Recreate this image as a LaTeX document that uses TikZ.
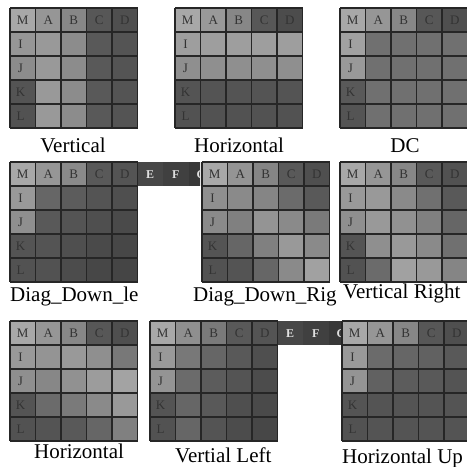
\documentclass[tikz,border=0pt]{standalone}
\usepackage{fontspec}
\setmainfont{Liberation Serif}
\tikzset{
  gridline/.style={draw=black!85, line width=1.2pt},
  nbr/.style={text=black!80, font=\fontsize{13}{13}\selectfont, inner sep=0pt},
  extnbr/.style={text=white!88!black, font=\fontsize{12}{12}\selectfont\bfseries, inner sep=0pt},
  modename/.style={font=\fontsize{21}{21}\selectfont, inner sep=0pt},
}
% one 4x4 block with its neighbours: #1,#2 top left corner, #3 name, #4 gray levels row by row
\newcommand\predblock[4]{%
  \foreach \v [count=\k from 0] in {#4} {
    \pgfmathtruncatemacro\blkrow{div(\k,5)}
    \pgfmathtruncatemacro\blkcol{mod(\k,5)}
    \fill[white!\v!black] ({#1+\blkcol*25.5},{#2+\blkrow*24}) rectangle ++(25.5,24);
  }
  \foreach \j in {0,...,5} {
    \draw[gridline] ({#1+\j*25.5},#2) -- ++(0,120);
    \draw[gridline] (#1,{#2+\j*24}) -- ++(127.5,0);
  }
  \foreach \t [count=\j from 0] in {M,A,B,C,D}
    \node[nbr] (#3\t) at ({#1+12.75+\j*25.5},{#2+12.5}) {\t};
  \foreach \t [count=\j from 1] in {I,J,K,L}
    \node[nbr] (#3\t) at ({#1+10.5},{#2+12.5+\j*24}) {\t};
}
% E F G past the block, cut off by the next block
\newcommand\extrow[3]{%
  \begin{scope}
    \clip (#1,#2) rectangle (#3,{#2+24});
    \foreach \t/\v [count=\j from 0] in {E/28,F/25,G/22} {
      \fill[white!\v!black] ({#1+\j*25.5},#2) rectangle ++(25.5,24);
      \node[extnbr] at ({#1+12.75+\j*25.5},{#2+12.5}) {\t};
    }
  \end{scope}
}
\begin{document}
\begin{tikzpicture}[x=1pt,y=-1pt]
\useasboundingbox (0,0) rectangle (467,467);
\clip (0,0) rectangle (467,467);
% first row
\predblock{10}{8}{vt}{66,59,53,34,31, 59,60,55,35,33, 55,60,55,35,33, 33,60,55,35,33, 32,60,55,35,33}
\predblock{175}{8}{hz}{66,60,53,34,30, 62,62,62,62,62, 56,56,56,56,56, 33,33,33,33,33, 32,32,32,32,32}
\predblock{340}{8}{dc}{66,59,53,34,31, 63,44,44,44,44, 60,44,44,44,44, 35,44,44,44,44, 33,44,44,44,44}
\node[modename, anchor=base] (vtname) at (73,152) {Vertical};
\node[modename, anchor=base] (hzname) at (239,152) {Horizontal};
\node[modename, anchor=base] (dcname) at (405,152) {DC};
% second row
\extrow{137.5}{162}{200}
\predblock{10}{162}{ddl}{66,59,54,35,33, 60,40,36,33,31, 56,35,33,31,29, 33,33,31,29,28, 32,32,30,28,27}
\predblock{202}{162}{ddr}{66,58,52,35,31, 56,54,52,42,35, 54,50,58,54,48, 33,40,50,60,54, 32,33,40,54,63}
\predblock{340}{162}{vr}{66,59,53,35,32, 60,60,54,44,35, 56,60,57,50,40, 33,56,60,54,44, 32,42,63,60,52}
\node[modename, anchor=base west] (ddlname) at (10,301) {Diag\_Down\_le};
\node[modename, anchor=base west] (ddrname) at (193,301) {Diag\_Down\_Rig};
\node[modename, anchor=base west] (vrname) at (343,298) {Vertical Right};
% third row
\extrow{277.5}{321}{341}
\predblock{10}{321}{hd}{66,59,53,34,31, 60,58,60,56,47, 56,53,57,61,64, 33,42,48,54,60, 32,33,35,40,50}
\predblock{150}{321}{vl}{66,56,48,35,33, 60,47,40,35,31, 58,42,36,33,30, 33,40,35,31,29, 32,40,33,30,28}
\predblock{342}{321}{hu}{66,59,53,34,31, 60,42,40,38,35, 58,38,36,35,33, 33,33,33,33,33, 32,33,33,33,33}
\node[modename, anchor=base] (hdname) at (79,458) {Horizontal};
\node[modename, anchor=base west] (vlname) at (175,462) {Vertial Left};
\node[modename, anchor=base west] (huname) at (342,463) {Horizontal Up};
\end{tikzpicture}
\end{document}
